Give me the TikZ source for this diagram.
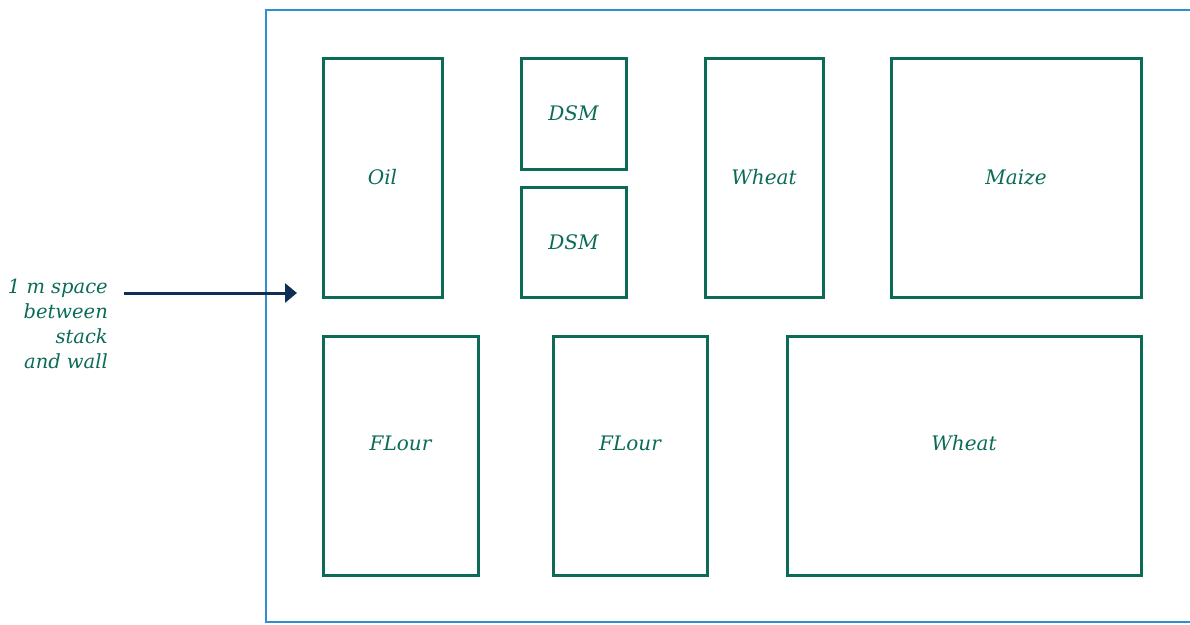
\documentclass[tikz,border=0pt]{standalone}
\usepackage{fontspec}
\setmainfont{DejaVu Serif}
\usepackage{xcolor}
\usepackage{tikz}
\usetikzlibrary{arrows.meta}

\definecolor{stackgreen}{HTML}{0B6B57}
\definecolor{wallblue}{HTML}{2E8FD3}
\definecolor{arrownavy}{HTML}{0E2E56}

\tikzset{
	stackbox/.style={draw=stackgreen, line width=3pt, inner sep=0pt, font=\itshape\fontsize{20}{24}\selectfont, text=stackgreen},
	lowlabel/.style={text height=14pt, text depth=25pt},
}

\begin{document}
\begin{tikzpicture}[x=1pt, y=-1pt]
				\useasboundingbox (0,0) rectangle (1190,624);
				
				% wall
				\draw[wallblue, line width=1.3pt] (1191,10) -- (266,10) -- (266,622) -- (1191,622);
				
				% stacks, top row
				\node[stackbox, minimum width=119, minimum height=239] (oil) at (382.5,177.5) {Oil};
				\node[stackbox, minimum width=105, minimum height=111] (dsmtop) at (573.5,113.5) {DSM};
				\node[stackbox, minimum width=105, minimum height=110] (dsmbot) at (573.5,242) {DSM};
				\node[stackbox, minimum width=118, minimum height=239] (wheattop) at (764,177.5) {Wheat};
				\node[stackbox, minimum width=250, minimum height=239] (maize) at (1016,177.5) {Maize};
				
				% stacks, bottom row
				\node[stackbox, lowlabel, minimum width=155, minimum height=239] (flourA) at (400.5,455.5) {FLour};
				\node[stackbox, lowlabel, minimum width=154, minimum height=239] (flourB) at (630,455.5) {FLour};
				\node[stackbox, lowlabel, minimum width=354, minimum height=239] (wheatbot) at (964,455.5) {Wheat};
				
				% label and arrow
				\node[anchor=north east, align=right, inner sep=0pt, text=stackgreen, font=\itshape\fontsize{19.5}{25}\selectfont] (spacelabel) at (108,279) {1 m space\\between\\stack\\and wall};
				\coordinate (arrowstart) at (124,293);
				\coordinate (wallgap) at (297,293);
				\draw[arrownavy, line width=3pt, -{Triangle[length=12pt, width=19pt]}] (arrowstart) -- (wallgap);
			\end{tikzpicture}
\end{document}
